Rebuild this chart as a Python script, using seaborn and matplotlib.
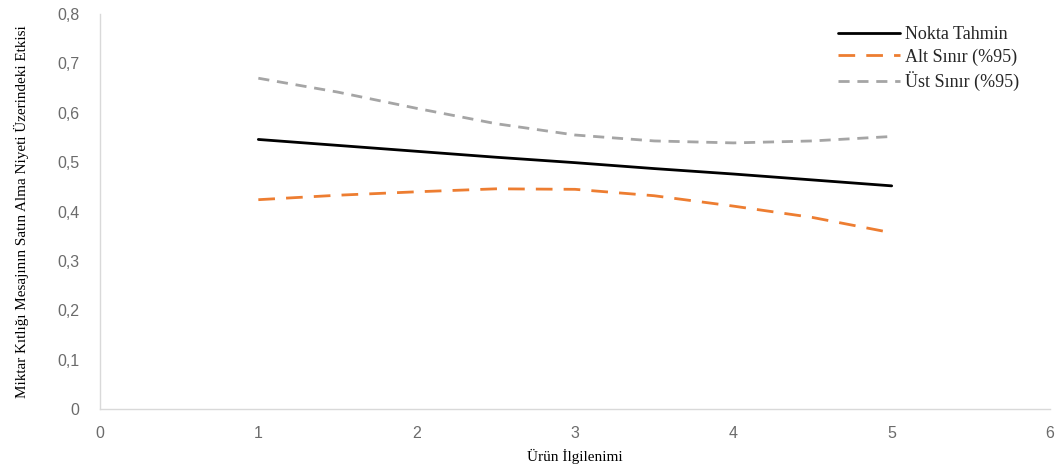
import matplotlib
matplotlib.use("Agg")
import matplotlib.pyplot as plt
import seaborn as sns
import pandas as pd

x_vals = [1, 1.5, 2, 2.5, 3, 3.5, 4, 4.5, 5]
nokta = [0.546, 0.534, 0.522, 0.510, 0.499, 0.487, 0.476, 0.464, 0.452]
alt = [0.424, 0.433, 0.440, 0.446, 0.445, 0.432, 0.411, 0.388, 0.357]
ust = [0.670, 0.642, 0.609, 0.578, 0.555, 0.543, 0.539, 0.543, 0.552]
series_names = ["Nokta Tahmin", "Alt Sınır (%95)", "Üst Sınır (%95)"]
x_ticks = [0, 1, 2, 3, 4, 5, 6]
y_ticks = [0, 0.1, 0.2, 0.3, 0.4, 0.5, 0.6, 0.7, 0.8]
y_tick_labels = ["0", "0,1", "0,2", "0,3", "0,4", "0,5", "0,6", "0,7", "0,8"]

df = pd.DataFrame({
    "x": x_vals * 3,
    "y": nokta + alt + ust,
    "seri": [series_names[0]] * len(x_vals) + [series_names[1]] * len(x_vals) + [series_names[2]] * len(x_vals),
})

sns.set_style("white")
plt.rcParams["font.family"] = ["Liberation Serif", "DejaVu Sans"]

fig = plt.figure(figsize=(10.57, 4.68), dpi=100)
ax = fig.add_axes([0.0946, 0.126, 0.8988, 0.844])

palette = {series_names[0]: "#000000", series_names[1]: "#ED7D31", series_names[2]: "#A5A5A5"}
sns.lineplot(data=df, x="x", y="y", hue="seri", palette=palette, ax=ax, linewidth=2.0, legend=True)

dash_styles = [None, (6, 4), (4, 2.8)]
for line, ds in zip(ax.get_lines(), dash_styles):
    if ds is not None:
        line.set_dashes(ds)

ax.set_xlim(0, 6)
ax.set_ylim(0, 0.8)
ax.set_xticks(x_ticks)
ax.set_xticklabels([str(t) for t in x_ticks])
ax.set_yticks(y_ticks)
ax.set_yticklabels(y_tick_labels)
for lab in ax.get_xticklabels() + ax.get_yticklabels():
    lab.set_fontfamily("Liberation Sans")
    lab.set_color("#6b6b6b")
    lab.set_fontsize(11.5)
ax.tick_params(axis="both", length=0)
ax.tick_params(axis="x", pad=12)
ax.tick_params(axis="y", pad=15)

for s in ["top", "right"]:
    ax.spines[s].set_visible(False)
for s in ["left", "bottom"]:
    ax.spines[s].set_color("#D9D9D9")
    ax.spines[s].set_linewidth(1.0)

ax.set_xlabel("Ürün İlgilenimi", fontsize=11, color="#000000", labelpad=6)
ax.set_ylabel("Miktar Kıtlığı Mesajının Satın Alma Niyeti Üzerindeki Etkisi", fontsize=10.9,
              color="#000000", labelpad=20)

handles = ax.get_lines()[:3]
leg = ax.legend(handles=handles, labels=series_names, loc="upper left", bbox_to_anchor=(0.777, 0.97),
                frameon=False, fontsize=13, handlelength=3.45, labelspacing=0.3, handletextpad=0.25,
                borderaxespad=0, borderpad=0)

fig.savefig("out.png", dpi=100)
